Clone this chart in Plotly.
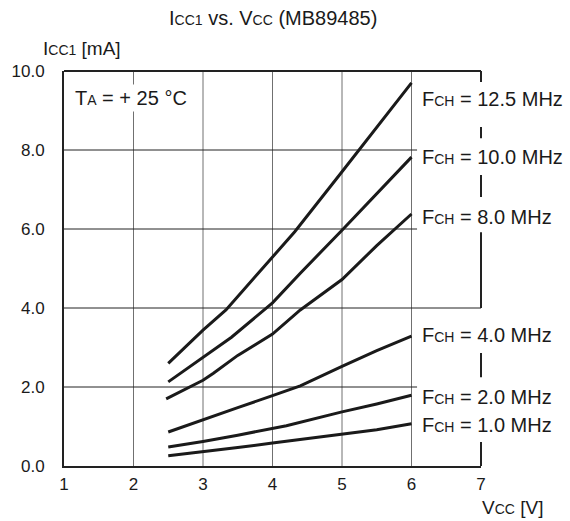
import plotly.graph_objects as go

# ---- data ----
vcc_125 = [2.5, 3.0, 3.33, 3.96, 4.32, 5.0, 5.5, 6.0]
icc_125 = [2.60, 3.44, 3.95, 5.22, 5.93, 7.45, 8.57, 9.70]
vcc_100 = [2.5, 3.0, 3.41, 4.0, 4.4, 5.0, 5.5, 6.0]
icc_100 = [2.13, 2.75, 3.26, 4.13, 4.88, 5.97, 6.90, 7.82]
vcc_80 = [2.47, 3.0, 3.15, 3.5, 4.0, 4.4, 5.0, 5.5, 6.0]
icc_80 = [1.70, 2.17, 2.35, 2.80, 3.34, 3.95, 4.72, 5.58, 6.38]
vcc_40 = [2.5, 3.0, 3.5, 4.0, 4.4, 5.0, 5.5, 6.0]
icc_40 = [0.86, 1.18, 1.48, 1.78, 2.03, 2.52, 2.92, 3.29]
vcc_20 = [2.5, 3.0, 3.5, 4.0, 4.2, 5.0, 5.5, 6.0]
icc_20 = [0.48, 0.62, 0.78, 0.95, 1.02, 1.37, 1.57, 1.79]
vcc_10 = [2.5, 3.0, 3.5, 4.0, 4.5, 5.0, 5.5, 6.0]
icc_10 = [0.26, 0.36, 0.47, 0.58, 0.69, 0.81, 0.92, 1.07]

freq_labels = ["12.5", "10.0", "8.0", "4.0", "2.0", "1.0"]
label_y = [9.29, 7.82, 6.30, 3.32, 1.75, 1.04]
x_ticks = [1, 2, 3, 4, 5, 6, 7]
y_ticks = [0, 2, 4, 6, 8, 10]
grid_x = [2, 3, 4, 5, 6]
grid_y_short = [2, 6, 8]
grid_y_long = [4]
# right border pieces (y ranges) - border broken around labels
border_pieces = [(9.72, 10.0), (8.30, 8.58), (6.81, 7.37), (4.0, 5.92), (2.25, 2.86), (0.0, 0.61)]

X_RANGE = [1, 7]
Y_RANGE = [0, 10]

series = list(zip([vcc_125, vcc_100, vcc_80, vcc_40, vcc_20, vcc_10],
                  [icc_125, icc_100, icc_80, icc_40, icc_20, icc_10],
                  freq_labels, label_y))

FONT = "Arial, Liberation Sans, Helvetica, sans-serif"
INK = "#1a1a1a"


def ypaper(v):
    return (v - Y_RANGE[0]) / (Y_RANGE[1] - Y_RANGE[0])


fig = go.Figure()
for xs, ys, name, _ly in series:
    fig.add_trace(go.Scatter(x=xs, y=ys, mode="lines", name=name,
                             line=dict(color=INK, width=3), hoverinfo="skip",
                             showlegend=False))

shapes = []
for gx in grid_x:
    shapes.append(dict(type="line", xref="x", yref="y", x0=gx, x1=gx, y0=0, y1=10,
                       line=dict(color="#707070", width=1), layer="below"))
for gy in grid_y_short:
    shapes.append(dict(type="line", xref="x", yref="y", x0=1, x1=6.08, y0=gy, y1=gy,
                       line=dict(color="#222222", width=1), layer="below"))
for gy in grid_y_long:
    shapes.append(dict(type="line", xref="x", yref="y", x0=1, x1=7, y0=gy, y1=gy,
                       line=dict(color="#222222", width=1), layer="below"))
# top border (paper refs so it is not clipped)
shapes.append(dict(type="line", xref="paper", yref="paper", x0=0, x1=1, y0=1, y1=1,
                   line=dict(color="#222222", width=2)))
for y0, y1 in border_pieces:
    shapes.append(dict(type="line", xref="paper", yref="paper", x0=1, x1=1,
                       y0=ypaper(y0), y1=ypaper(y1),
                       line=dict(color="#222222", width=2)))

annotations = []
sub = "<span style='font-size:14px'>{}</span>"
for xs, ys, name, ly in series:
    annotations.append(dict(x=xs[-1], y=ly, xref="x", yref="y", xanchor="left",
                            yanchor="middle", xshift=8, showarrow=False,
                            text="F" + sub.format("CH") + " = " + name + " MHz",
                            font=dict(family=FONT, size=20, color=INK)))
annotations.append(dict(x=1.12, y=9.32, xref="x", yref="y", xanchor="left", yanchor="middle",
                        showarrow=False, bgcolor="white", borderpad=2,
                        text="T" + sub.format("A") + " = + 25 °C",
                        font=dict(family=FONT, size=20, color=INK)))
annotations.append(dict(x=0.5, y=1.134, xref="paper", yref="paper", xanchor="center",
                        yanchor="middle", showarrow=False,
                        text="I" + sub.format("CC1") + " vs. V" + sub.format("CC") + " (MB89485)",
                        font=dict(family=FONT, size=20, color=INK)))
annotations.append(dict(x=-0.055, y=1.058, xref="paper", yref="paper", xanchor="left",
                        yanchor="middle", showarrow=False,
                        text="I" + sub.format("CC1") + " [mA]",
                        font=dict(family=FONT, size=19, color=INK)))
annotations.append(dict(x=0.998, y=-0.104, xref="paper", yref="paper", xanchor="left",
                        yanchor="middle", showarrow=False,
                        text="V" + sub.format("CC") + " [V]",
                        font=dict(family=FONT, size=19, color=INK)))

fig.update_layout(
    width=570, height=521,
    margin=dict(l=64, r=89, t=71, b=55, autoexpand=False),
    paper_bgcolor="white", plot_bgcolor="white",
    shapes=shapes, annotations=annotations,
    font=dict(family=FONT, size=17, color=INK),
    xaxis=dict(range=X_RANGE, tickvals=x_ticks, ticktext=[str(v) for v in x_ticks],
               showgrid=False, zeroline=False, showline=True, linecolor="#222222",
               linewidth=2, ticks="", ticklabelstandoff=2, automargin=False,
               tickfont=dict(family=FONT, size=17, color=INK)),
    yaxis=dict(range=Y_RANGE, tickvals=y_ticks, ticktext=["%.1f" % v for v in y_ticks],
               showgrid=False, zeroline=False, showline=True, linecolor="#222222",
               linewidth=2, ticks="", ticklabelstandoff=14, automargin=False,
               tickfont=dict(family=FONT, size=17, color=INK)),
)

fig.write_html("out.html", config={"displayModeBar": False},
               post_script="document.body.style.margin='0';document.body.style.padding='0';")
